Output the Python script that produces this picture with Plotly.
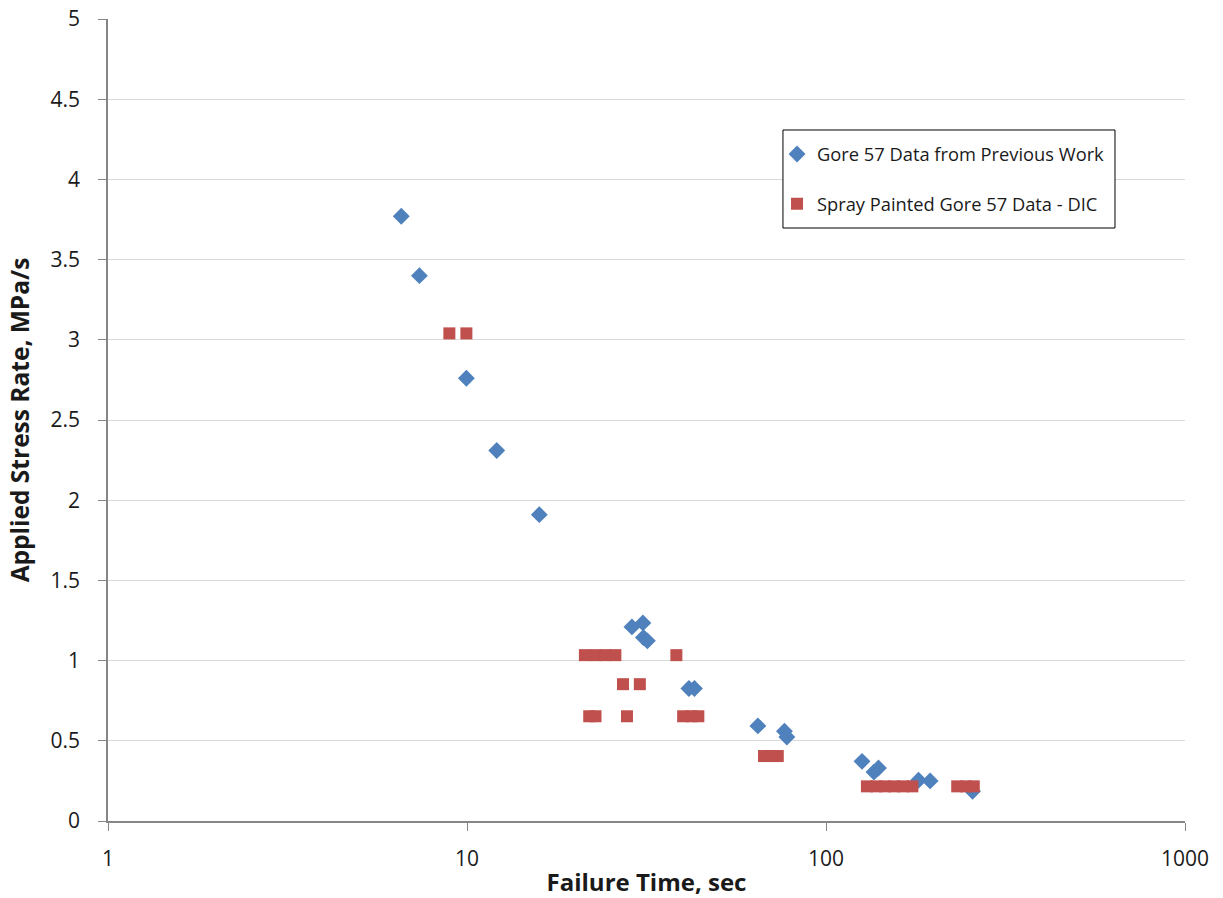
import plotly.graph_objects as go

# Gore 57 data from previous work (failure time in s, stress rate in MPa/s)
prev_time = [6.56, 7.37, 9.96, 12.1, 15.9, 28.8, 30.9, 31.0, 31.8, 41.5, 43.0,
             64.6, 76.6, 77.8, 126, 136, 140, 181, 195, 256]
prev_rate = [3.77, 3.40, 2.76, 2.31, 1.91, 1.21, 1.235, 1.144, 1.123, 0.826, 0.826,
             0.593, 0.56, 0.524, 0.372, 0.305, 0.33, 0.254, 0.25, 0.185]

# Spray painted Gore 57 data measured with DIC
dic_time = [8.93, 9.96,
            21.3, 22.8, 24.3, 25.9, 38.3,
            27.2, 30.3,
            21.9, 22.8, 27.9, 40.0, 42.2, 44.1,
            67.2, 70.3, 73.4,
            130, 138, 146, 155, 164, 174,
            232, 245, 258]
dic_rate = [3.04, 3.04,
            1.034, 1.034, 1.034, 1.034, 1.034,
            0.853, 0.853,
            0.653, 0.653, 0.653, 0.653, 0.653, 0.653,
            0.405, 0.405, 0.405,
            0.216, 0.216, 0.216, 0.216, 0.216, 0.216,
            0.216, 0.216, 0.216]

y_ticks = [0, 0.5, 1, 1.5, 2, 2.5, 3, 3.5, 4, 4.5, 5]
y_tick_text = ["0", "0.5", "1", "1.5", "2", "2.5", "3", "3.5", "4", "4.5", "5"]
x_ticks = [1, 10, 100, 1000]
x_tick_text = ["1", "10", "100", "1000"]

FONT = "Open Sans, Liberation Sans, sans-serif"
TEXT = "#1a1a1a"

fig = go.Figure()
fig.add_trace(go.Scatter(
    x=prev_time, y=prev_rate, mode="markers",
    name="Gore 57 Data from Previous Work", legendgroup="a",
    marker=dict(symbol="diamond", size=13, color="#4F81BD"),
))
fig.add_trace(go.Scatter(
    x=dic_time, y=dic_rate, mode="markers",
    name="Spray Painted Gore 57 Data - DIC", legendgroup="b",
    marker=dict(symbol="square", size=12, color="#C0504D"),
))

# Framed white box behind the legend entries
fig.add_shape(
    type="rect", xref="paper", yref="paper",
    x0=0.6267, x1=0.935, y0=0.7394, y1=0.8616,
    line=dict(color="#000000", width=1), fillcolor="white", layer="above",
)

fig.update_layout(
    width=1223, height=898,
    margin=dict(l=108, r=38, t=19, b=77, autoexpand=False),
    plot_bgcolor="white", paper_bgcolor="white",
    font=dict(family=FONT, size=17, color=TEXT),
    showlegend=True,
    legend=dict(
        x=0.6212, y=0.8547, xanchor="left", yanchor="top",
        bgcolor="rgba(0,0,0,0)", borderwidth=0,
        font=dict(family=FONT, size=18.3, color=TEXT),
        tracegroupgap=23, traceorder="grouped",
    ),
    xaxis=dict(
        type="log", range=[0, 3], automargin=False,
        tickvals=x_ticks, ticktext=x_tick_text,
        showgrid=False, zeroline=False,
        showline=True, linecolor="#868686", linewidth=1.5,
        ticks="outside", ticklen=8, tickcolor="#868686",
        ticklabelstandoff=10,
        tickfont=dict(family=FONT, size=21, color=TEXT),
        title=dict(text="<b>Failure Time, sec</b>", font=dict(family=FONT, size=24, color=TEXT),
                   standoff=4),
    ),
    yaxis=dict(
        range=[0, 5], automargin=False,
        tickvals=y_ticks, ticktext=y_tick_text,
        showgrid=True, gridcolor="#D9D9D9", gridwidth=1.3,
        zeroline=False,
        showline=True, linecolor="#868686", linewidth=1.5,
        ticks="outside", ticklen=8, tickcolor="#868686",
        ticklabelstandoff=14,
        tickfont=dict(family=FONT, size=21, color=TEXT),
        title=dict(text="<b>Applied Stress Rate, MPa/s</b>", font=dict(family=FONT, size=24.5, color=TEXT),
                   standoff=14),
    ),
)

fig.write_html("out.html")
